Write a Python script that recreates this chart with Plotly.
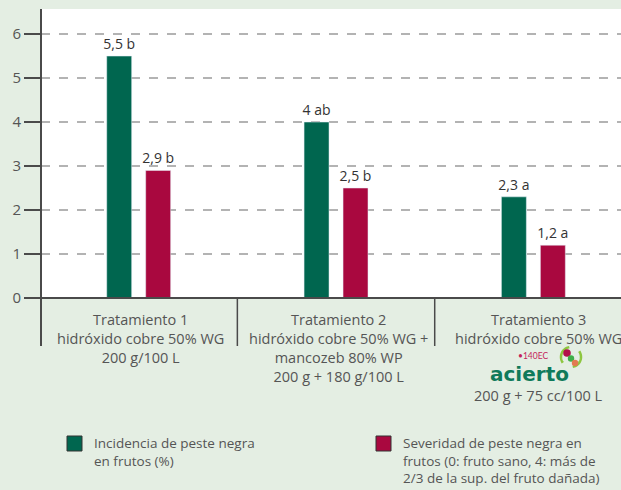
import math

import plotly.graph_objects as go

# Data
categories = ["Tratamiento 1", "Tratamiento 2", "Tratamiento 3"]
incidencia = [5.5, 4.0, 2.3]
incidencia_letras = ["b", "ab", "a"]
severidad = [2.9, 2.5, 1.2]
severidad_letras = ["b", "b", "a"]
y_ticks = [0, 1, 2, 3, 4, 5, 6]

detalle = [
    "hidróxido cobre 50% WG<br>200 g/100 L",
    "hidróxido cobre 50% WG +<br>mancozeb 80% WP<br>200 g + 180 g/100 L",
    "hidróxido cobre 50% WG",
]
dosis_t3 = "200 g + 75 cc/100 L"

nombre_incidencia = ["Incidencia de peste negra", "en frutos (%)"]
nombre_severidad = [
    "Severidad de peste negra en",
    "frutos (0: fruto sano, 4: más de",
    "2/3 de la sup. del fruto dañada)",
]

GREEN = "#00664f"
RED = "#a9083f"
BG = "#e4eee3"
AXIS = "#4a4a4a"
TEXT = "#555555"
FONT = "Open Sans"

W, H = 621, 490
M_L, M_R, M_T, M_B = 41, 0, 9, 192
PW, PH = W - M_L - M_R, H - M_T - M_B


def px(x):
    """Pixel x -> paper x."""
    return (x - M_L) / PW


def py(y):
    """Pixel y (from top) -> paper y."""
    return (H - M_B - y) / PH


def etiqueta(v, letra):
    return f"{v:g}".replace(".", ",") + " " + letra


fig = go.Figure()
fig.add_bar(
    x=categories,
    y=incidencia,
    name=" ".join(nombre_incidencia),
    marker_color=GREEN,
    text=[etiqueta(v, l) for v, l in zip(incidencia, incidencia_letras)],
)
fig.add_bar(
    x=categories,
    y=severidad,
    name=" ".join(nombre_severidad),
    marker_color=RED,
    text=[etiqueta(v, l) for v, l in zip(severidad, severidad_letras)],
)
fig.update_traces(
    textposition="outside",
    constraintext="none",
    textfont=dict(family=FONT, size=14, color="#333333"),
    cliponaxis=False,
    hoverinfo="skip",
)

# Category labels below the axis
annotations = []
for i, (cat, det) in enumerate(zip(categories, detalle)):
    annotations.append(dict(
        x=cat, xref="x", xanchor="center", xshift=5 if i == 2 else 2,
        y=0, yref="y", yanchor="top", yshift=-10,
        text=f"{cat}<br>{det}", showarrow=False, align="center",
        font=dict(family=FONT, size=14.5, color=TEXT),
    ))
annotations.append(dict(
    x=categories[2], xref="x", xanchor="center", xshift=5,
    y=py(395), yref="paper", yanchor="middle",
    text=dosis_t3, showarrow=False,
    font=dict(family=FONT, size=14.5, color=TEXT),
))

# acierto logo
annotations.append(dict(
    x=px(529), xref="paper", xanchor="center",
    y=py(373.5), yref="paper", yanchor="middle", height=18,
    text="<b>acierto</b>", showarrow=False,
    font=dict(family="DejaVu Sans", size=20, color="#0f7a5a"),
))
annotations.append(dict(
    x=px(533), xref="paper", xanchor="center",
    y=py(356.5), yref="paper", yanchor="middle", height=8,
    text="•140EC", showarrow=False,
    font=dict(family="Lato", size=8.5, color="#c41e5b"),
))

shapes = []
# baseline and axis extension / separators
shapes.append(dict(type="line", xref="paper", yref="paper", x0=px(25), x1=1,
                   y0=0, y1=0, line=dict(color=AXIS, width=2), layer="above"))
shapes.append(dict(type="line", xref="paper", yref="paper", x0=0, x1=0,
                   y0=1, y1=py(346), line=dict(color=AXIS, width=2), layer="above"))
for sep in (0.5, 1.5):
    shapes.append(dict(type="line", xref="x", yref="paper", x0=sep, x1=sep,
                       y0=0, y1=py(346), line=dict(color=AXIS, width=1.5)))

# logo symbol: two green arcs with three dots
cx, cy, r = 571, 357, 10
for a0, a1 in ((100, 215), (280, 395)):
    pts = [
        (px(cx + r * math.cos(math.radians(a))), py(cy - r * math.sin(math.radians(a))))
        for a in range(a0, a1 + 1, 5)
    ]
    path = "M " + " L ".join(f"{x},{y}" for x, y in pts)
    shapes.append(dict(type="path", xref="paper", yref="paper", path=path,
                       line=dict(color="#8dc63f", width=2.5)))
for dx, dy, rr, col in ((-4, -4, 3.8, "#b3104a"), (0, 1.5, 3.2, "#3fae49"), (4, 6, 3.2, "#e27a50")):
    shapes.append(dict(type="circle", xref="paper", yref="paper",
                       x0=px(cx + dx - rr), x1=px(cx + dx + rr),
                       y0=py(cy + dy + rr), y1=py(cy + dy - rr),
                       fillcolor=col, line_width=0))

# legend drawn by hand: square swatch plus a multi-line label
legend_items = [(67, GREEN, nombre_incidencia), (376, RED, nombre_severidad)]
for x_sq, col, lines in legend_items:
    shapes.append(dict(type="rect", xref="paper", yref="paper",
                       x0=px(x_sq), x1=px(x_sq + 15), y0=py(451), y1=py(436),
                       fillcolor=col, line=dict(color="#333333", width=1)))
    annotations.append(dict(
        x=px(x_sq + 25), xref="paper", xanchor="left",
        y=py(432), yref="paper", yanchor="top",
        text="<br>".join(lines), showarrow=False, align="left",
        font=dict(family=FONT, size=13.5, color=TEXT),
    ))

fig.update_layout(
    width=W,
    height=H,
    margin=dict(l=M_L, r=M_R, t=M_T, b=M_B, pad=0, autoexpand=False),
    paper_bgcolor=BG,
    plot_bgcolor="white",
    barmode="group",
    bargap=0.605,
    bargroupgap=0.36,
    font=dict(family=FONT, color=TEXT),
    showlegend=False,
    annotations=annotations,
    shapes=shapes,
)
fig.update_xaxes(
    range=[-0.495, 2.444],
    showticklabels=False,
    ticks="",
    showgrid=False,
    zeroline=False,
    showline=False,
    fixedrange=True,
)
fig.update_yaxes(
    range=[0, 6.57],
    tickvals=y_ticks,
    ticks="outside",
    ticklen=16,
    tickwidth=1.5,
    tickcolor=AXIS,
    tickfont=dict(family=FONT, size=15, color=TEXT),
    showgrid=True,
    gridcolor="#b3b3b3",
    gridwidth=1.5,
    griddash="dash",
    zeroline=False,
    showline=False,
    fixedrange=True,
)

fig.write_html(
    "out.html",
    config={"displayModeBar": False},
    post_script="document.body.style.margin='0';document.body.style.overflow='hidden';",
)
